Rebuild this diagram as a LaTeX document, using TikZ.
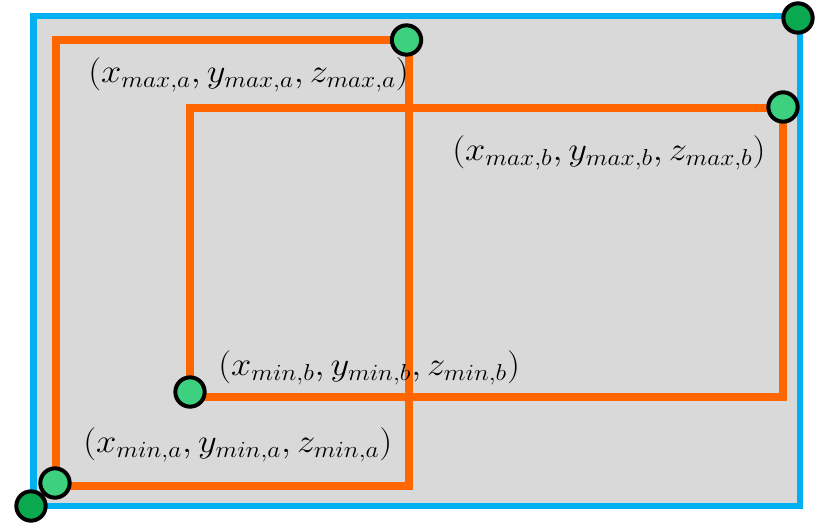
\documentclass[tikz,border=0pt]{standalone}
\usepackage{graphicx}
\definecolor{bgray}{HTML}{D9D9D9}
\definecolor{bblue}{HTML}{00B0F0}
\definecolor{borange}{HTML}{FF6600}
\definecolor{lgreen}{HTML}{3DD17F}
\definecolor{dgreen}{HTML}{0AA84F}
\begin{document}
\begin{tikzpicture}[x=0.75pt,y=-0.75pt,
  dotl/.style={circle,draw=black,line width=3pt,fill=lgreen,minimum size=22pt,inner sep=0},
  dotd/.style={circle,draw=black,line width=3pt,fill=dgreen,minimum size=22pt,inner sep=0},
  boxline/.style={draw=borange,line width=5.5pt},
  lbl/.style={anchor=west,inner sep=0,font=\fontsize{24}{28}\selectfont}]
\useasboundingbox (0,0) rectangle (817,524);
\coordinate (bTL) at (33.5,16);
\coordinate (bBR) at (800,506);
\fill[bgray] (bTL) rectangle (bBR);
\draw[bblue,line width=5pt] (bTL) rectangle (bBR);
\coordinate (aBL) at (56,486);
\coordinate (aTR) at (409,40);
\coordinate (bBL) at (190,397);
\coordinate (bTR) at (783,108);
\draw[boxline] (aBL) rectangle (aTR);
\draw[boxline] (bBL) rectangle (bTR);
\node[dotl] (d1) at (406.5,40) {};
\node[dotd] (d2) at (798,18) {};
\node[dotl] (d3) at (783,107) {};
\node[dotl] (d4) at (190,392) {};
\node[dotl] (d5) at (55,483) {};
\node[dotd] (d6) at (31,506) {};
\node[lbl] (l1) at (88,75) {\scalebox{1.1}[1]{$(x_{max,a},y_{max,a},z_{max,a})$}};
\node[lbl] (l2) at (452,153) {\scalebox{1.1}[1]{$(x_{max,b},y_{max,b},z_{max,b})$}};
\node[lbl] (l3) at (218,368) {\scalebox{1.1}[1]{$(x_{min,b},y_{min,b},z_{min,b})$}};
\node[lbl] (l4) at (83,445) {\scalebox{1.1}[1]{$(x_{min,a},y_{min,a},z_{min,a})$}};
\end{tikzpicture}
\end{document}
